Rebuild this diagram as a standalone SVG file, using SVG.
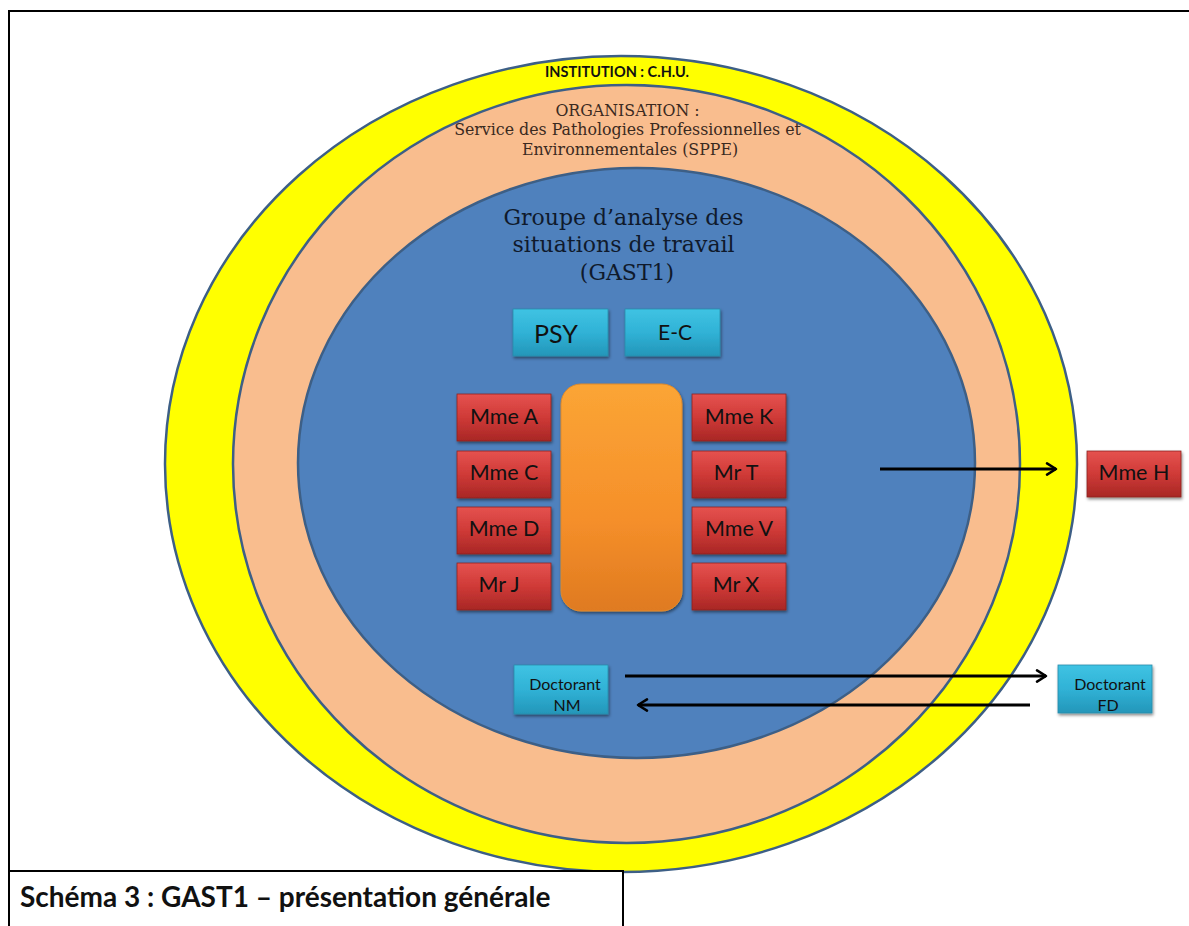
<svg xmlns="http://www.w3.org/2000/svg" width="1189" height="926" viewBox="0 0 1189 926">
  <style>
    .ring { stroke: #3d5f86; stroke-width: 2.5; }
    .red { fill: url(#gRed); stroke: #8c2220; stroke-width: 0.8; filter: url(#shadow); }
    .cyan { fill: url(#gCyan); stroke: #2a8cab; stroke-width: 0.8; filter: url(#shadow); }
    .lbl { font-family: Lato, "Liberation Sans", sans-serif; fill: #111; text-anchor: middle; }
    .serif { font-family: "DejaVu Serif", "Liberation Serif", serif; text-anchor: middle; }
    .conn { stroke: #000; stroke-width: 3; fill: none; }
  </style>
  <defs>
    <linearGradient id="gRed" x1="0" y1="0" x2="0" y2="1">
      <stop offset="0" stop-color="#e5524f"/>
      <stop offset="0.5" stop-color="#cf3a37"/>
      <stop offset="1" stop-color="#a82725"/>
    </linearGradient>
    <linearGradient id="gCyan" x1="0" y1="0" x2="0" y2="1">
      <stop offset="0" stop-color="#3fc3e3"/>
      <stop offset="0.5" stop-color="#30b2d6"/>
      <stop offset="1" stop-color="#2496b9"/>
    </linearGradient>
    <linearGradient id="gOrange" x1="0" y1="0" x2="0" y2="1">
      <stop offset="0" stop-color="#fba535"/>
      <stop offset="0.6" stop-color="#f58f2a"/>
      <stop offset="1" stop-color="#df7a20"/>
    </linearGradient>
    <filter id="shadow" x="-20%" y="-20%" width="140%" height="150%">
      <feDropShadow dx="1" dy="2" stdDeviation="1.5" flood-color="#000" flood-opacity="0.45"/>
    </filter>
    <marker id="head" viewBox="0 0 12 12" refX="10" refY="6" markerWidth="4.5" markerHeight="4.5" orient="auto-start-reverse" markerUnits="strokeWidth">
      <path d="M2,1 L10,6 L2,11" fill="none" stroke="#000" stroke-width="2.2" stroke-linecap="round" stroke-linejoin="round"/>
    </marker>
  </defs>

  <rect width="1189" height="926" fill="#fff"/>

  <!-- page frame -->
  <path d="M9,926 V11 H1189" fill="none" stroke="#000" stroke-width="2"/>

  <!-- nested scopes -->
  <g id="institution">
    <ellipse class="ring" cx="621" cy="464" rx="456" ry="408" fill="#ffff00"/>
    <text x="617" y="77" font-family="Lato, 'Liberation Sans', sans-serif" font-weight="bold" font-size="14.5" text-anchor="middle" fill="#111">INSTITUTION : C.H.U.</text>
  </g>
  <g id="organisation">
    <ellipse class="ring" cx="626.5" cy="464" rx="393.5" ry="379" fill="#f9bd8e"/>
    <text class="serif" font-size="15.8" fill="#3b2a1f">
      <tspan x="630" y="116">ORGANISATION :</tspan>
      <tspan x="630" y="135">Service des Pathologies Professionnelles et</tspan>
      <tspan x="630" y="155">Environnementales (SPPE)</tspan>
    </text>
  </g>
  <g id="gast1">
    <ellipse class="ring" cx="636.5" cy="463" rx="338.5" ry="295" fill="#4f81bd"/>
    <text class="serif" font-size="22" fill="#0f1a2c">
      <tspan x="627" y="225">Groupe d’analyse des</tspan>
      <tspan x="627" y="252">situations de travail</tspan>
      <tspan x="627" y="280">(GAST1)</tspan>
    </text>
  </g>

  <!-- central table -->
  <g id="table">
    <rect x="561" y="384" width="121" height="227" rx="20" fill="url(#gOrange)" stroke="#e08a2a" stroke-width="1" filter="url(#shadow)"/>
  </g>

  <g id="psy"><rect class="cyan" x="513" y="309" width="95" height="47"/><text class="lbl" x="556" y="343" font-size="25">PSY</text></g>
  <g id="ec"><rect class="cyan" x="625" y="309" width="95" height="47"/><text class="lbl" x="675" y="340" font-size="21">E-C</text></g>

  <g id="mme-a"><rect class="red" x="457" y="394" width="94" height="47"/><text class="lbl" x="504" y="424" font-size="21.5">Mme A</text></g>
  <g id="mme-c"><rect class="red" x="457" y="451" width="94" height="47"/><text class="lbl" x="504" y="480" font-size="21.5">Mme C</text></g>
  <g id="mme-d"><rect class="red" x="457" y="507" width="94" height="47"/><text class="lbl" x="504" y="536" font-size="21.5">Mme D</text></g>
  <g id="mr-j"><rect class="red" x="457" y="563" width="94" height="47"/><text class="lbl" x="499" y="592" font-size="21.5">Mr J</text></g>

  <g id="mme-k"><rect class="red" x="692" y="394" width="94" height="47"/><text class="lbl" x="739" y="424" font-size="21.5">Mme K</text></g>
  <g id="mr-t"><rect class="red" x="692" y="451" width="94" height="47"/><text class="lbl" x="736" y="480" font-size="21.5">Mr T</text></g>
  <g id="mme-v"><rect class="red" x="692" y="507" width="94" height="47"/><text class="lbl" x="739" y="536" font-size="21.5">Mme V</text></g>
  <g id="mr-x"><rect class="red" x="692" y="563" width="94" height="47"/><text class="lbl" x="736" y="592" font-size="21.5">Mr X</text></g>

  <g id="mme-h"><rect class="red" x="1087" y="451" width="94" height="46"/><text class="lbl" x="1134" y="480" font-size="21.5">Mme H</text></g>

  <g id="doctorant-nm"><rect class="cyan" x="514" y="665" width="94" height="49"/>
    <text class="lbl" font-size="16" fill="#10283a"><tspan x="565" y="690">Doctorant</tspan><tspan x="567" y="711">NM</tspan></text></g>
  <g id="doctorant-fd"><rect class="cyan" x="1058" y="665" width="94" height="48"/>
    <text class="lbl" font-size="16" fill="#10283a"><tspan x="1110" y="690">Doctorant</tspan><tspan x="1108" y="711">FD</tspan></text></g>

  <!-- connectors -->
  <g id="connectors">
    <line class="conn" x1="880" y1="469" x2="1056" y2="469" marker-end="url(#head)"/>
    <line class="conn" x1="625" y1="676" x2="1046" y2="676" marker-end="url(#head)"/>
    <line class="conn" x1="1030" y1="705" x2="638" y2="705" marker-end="url(#head)"/>
  </g>

  <!-- caption -->
  <g id="caption">
    <rect x="9" y="871" width="614" height="60" fill="#fff" stroke="#000" stroke-width="2"/>
    <text x="20" y="907" font-family="Lato, 'Liberation Sans', sans-serif" font-weight="bold" font-size="28" fill="#111">Schéma 3 : GAST1 – présentation générale</text>
  </g>
</svg>
